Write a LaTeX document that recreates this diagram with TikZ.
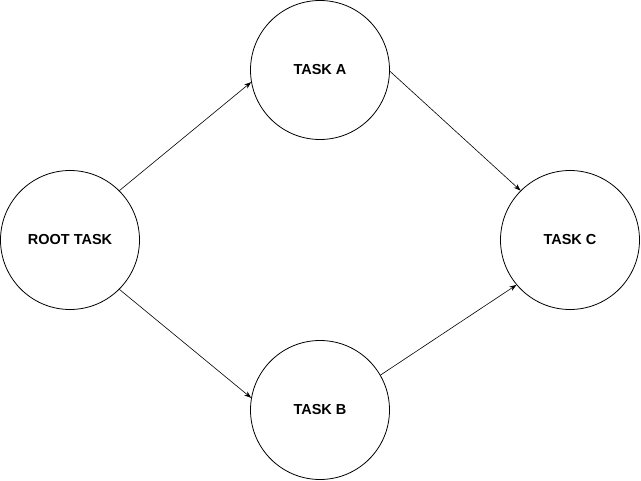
\documentclass[tikz,border=0pt]{standalone}
\usepackage{fontspec}
\setmainfont{Liberation Sans}
\usetikzlibrary{arrows.meta}
\begin{document}
\begin{tikzpicture}[x=1pt,y=-1pt,
  task/.style={circle,draw,line width=0.8pt,minimum size=139pt,inner sep=0pt,font=\bfseries\fontsize{14.5}{16}\selectfont},
  arr/.style={-{Stealth[length=7pt,width=5pt]},line width=0.6pt}]
\useasboundingbox (0,0) rectangle (641,481);
\node[task] (r) at (70,240) {ROOT TASK};
\node[task] (a) at (320,70) {TASK A};
\node[task] (b) at (320,410) {TASK B};
\node[task] (c) at (570,240) {TASK C};
\draw[arr] (r.45) -- (a.190);
\draw[arr] (r.-45) -- (b.170);
\draw[arr] (a.-1) -- (c.135);
\draw[arr] (b.30) -- (c.-140);
\end{tikzpicture}
\end{document}
